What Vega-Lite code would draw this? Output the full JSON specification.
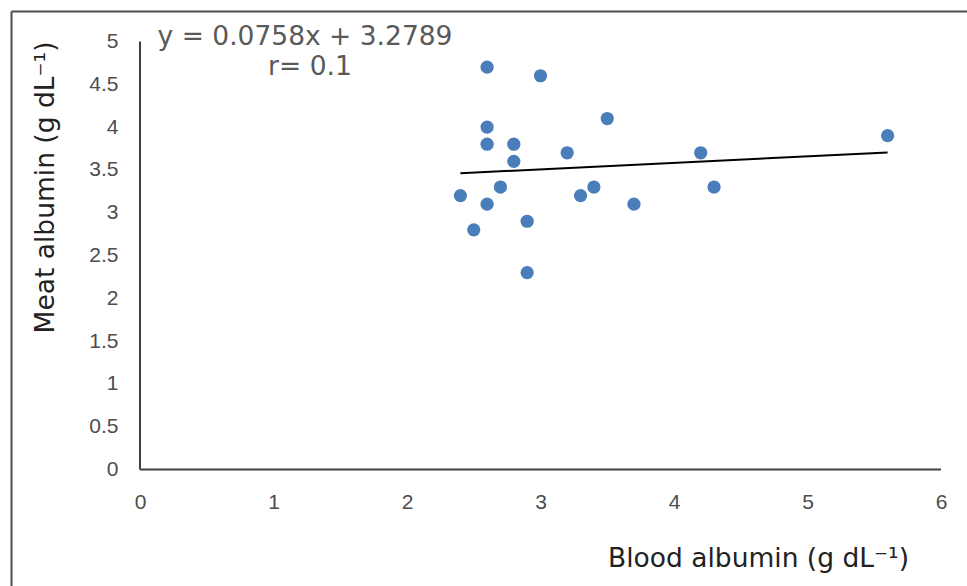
{
  "$schema": "https://vega.github.io/schema/vega-lite/v6.json",
  "width": 956,
  "height": 575,
  "autosize": {"type": "none"},
  "padding": {"left": 11, "top": 11, "right": 0, "bottom": 0},
  "background": "white",
  "config": {"view": {"stroke": null}, "axis": {"grid": false}},
  "datasets": {
    "points": [
      {"blood": 2.4, "meat": 3.2},
      {"blood": 2.5, "meat": 2.8},
      {"blood": 2.6, "meat": 4.7},
      {"blood": 2.6, "meat": 4.0},
      {"blood": 2.6, "meat": 3.8},
      {"blood": 2.6, "meat": 3.1},
      {"blood": 2.7, "meat": 3.3},
      {"blood": 2.8, "meat": 3.8},
      {"blood": 2.8, "meat": 3.6},
      {"blood": 2.9, "meat": 2.9},
      {"blood": 2.9, "meat": 2.3},
      {"blood": 3.0, "meat": 4.6},
      {"blood": 3.2, "meat": 3.7},
      {"blood": 3.3, "meat": 3.2},
      {"blood": 3.4, "meat": 3.3},
      {"blood": 3.5, "meat": 4.1},
      {"blood": 3.7, "meat": 3.1},
      {"blood": 4.2, "meat": 3.7},
      {"blood": 4.3, "meat": 3.3},
      {"blood": 5.6, "meat": 3.9}
    ],
    "trend": [
      {"blood": 2.4, "meat": 3.461},
      {"blood": 5.6, "meat": 3.703}
    ],
    "axislines": [
      {"x": 0, "x2": 6, "y": 0, "y2": 0},
      {"x": 0, "x2": 0, "y": 0, "y2": 5}
    ],
    "notes": [
      {"label": "y = 0.0758x + 3.2789", "x": 1.236, "y": 4.959},
      {"label": "r= 0.1", "x": 1.273, "y": 4.609}
    ]
  },
  "resolve": {"axis": {"x": "independent", "y": "independent"}},
  "layer": [
    {
      "data": {"name": "axislines"},
      "mark": {"type": "rule", "color": "#404040", "strokeWidth": 2},
      "encoding": {
        "x": {"field": "x", "type": "quantitative", "scale": {"domain": [-0.96629, 6.19476], "nice": false, "zero": false}, "axis": null},
        "x2": {"field": "x2"},
        "y": {"field": "y", "type": "quantitative", "scale": {"domain": [-1.36098, 5.35631], "nice": false, "zero": false}, "axis": null},
        "y2": {"field": "y2"}
      }
    },
    {
      "data": {"name": "trend"},
      "mark": {"type": "line", "color": "#000000", "strokeWidth": 2},
      "encoding": {
        "x": {"field": "blood", "type": "quantitative",
          "axis": {"orient": "top", "offset": 0, "domain": true, "domainColor": "#4d4d4d", "domainWidth": 2, "labels": false, "ticks": false, "grid": false, "title": null}},
        "y": {"field": "meat", "type": "quantitative",
          "axis": {"orient": "left", "offset": 0, "domain": true, "domainColor": "#4d4d4d", "domainWidth": 2, "labels": false, "ticks": false, "grid": false, "title": null}}
      }
    },
    {
      "data": {"name": "points"},
      "mark": {"type": "point", "filled": true, "shape": "circle", "size": 175, "color": "#4A7EBB", "opacity": 1},
      "encoding": {
        "x": {"field": "blood", "type": "quantitative",
          "axis": {"orient": "bottom", "offset": -116.5, "values": [0, 1, 2, 3, 4, 5, 6], "format": "~g",
            "domain": false, "ticks": false, "tickSize": 0, "grid": false, "labelFlush": false,
            "labelPadding": 38.5, "labelBaseline": "alphabetic", "labelFont": "Liberation Sans", "labelFontSize": 21, "labelColor": "#4d4d4d",
            "title": "Blood albumin (g dL⁻¹)", "titleFont": "DejaVu Sans", "titleFontSize": 26.5, "titleFontWeight": "normal", "titleColor": "#222222",
            "titleX": 747, "titleY": 96.5, "titleBaseline": "alphabetic", "titleAlign": "center", "titleAnchor": null}},
        "y": {"field": "meat", "type": "quantitative",
          "axis": {"orient": "left", "offset": -129, "values": [0, 0.5, 1, 1.5, 2, 2.5, 3, 3.5, 4, 4.5, 5], "format": "~g",
            "domain": false, "ticks": false, "tickSize": 0, "grid": false, "labelFlush": false,
            "labelPadding": 22, "labelFont": "Liberation Sans", "labelFontSize": 21, "labelColor": "#4d4d4d",
            "title": "Meat albumin (g dL⁻¹)", "titleFont": "DejaVu Sans", "titleFontSize": 26.5, "titleFontWeight": "normal", "titleColor": "#222222",
            "titleX": -87, "titleY": 176, "titleBaseline": "alphabetic", "titleAlign": "center", "titleAngle": 270, "titleAnchor": null}}
      }
    },
    {
      "data": {"name": "notes"},
      "mark": {"type": "text", "font": "DejaVu Sans", "fontSize": 26.5, "color": "#595959", "align": "center", "baseline": "alphabetic"},
      "encoding": {
        "x": {"field": "x", "type": "quantitative", "axis": null},
        "y": {"field": "y", "type": "quantitative", "axis": null},
        "text": {"field": "label"}
      }
    }
  ]
}
